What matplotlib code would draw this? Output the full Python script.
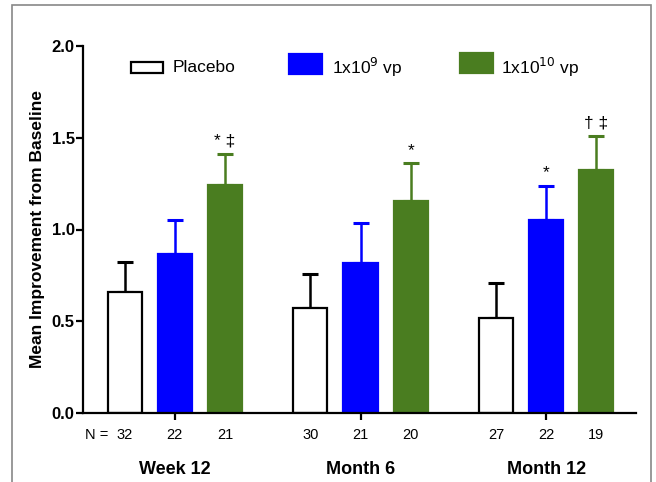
import matplotlib
matplotlib.use("Agg")
import matplotlib.pyplot as plt
from matplotlib.patches import Rectangle
import numpy as np

plt.rcParams['font.family'] = ['Liberation Sans', 'DejaVu Sans']

groups = ["Week 12", "Month 6", "Month 12"]
series = ["Placebo", "1x10$^{9}$ vp", "1x10$^{10}$ vp"]
means = {
    "Placebo": [0.66, 0.57, 0.52],
    "1e9": [0.865, 0.815, 1.05],
    "1e10": [1.245, 1.155, 1.325],
}
err_top = {
    "Placebo": [0.825, 0.755, 0.708],
    "1e9": [1.05, 1.035, 1.238],
    "1e10": [1.41, 1.36, 1.51],
}
n_labels = [["32", "22", "21"], ["30", "21", "20"], ["27", "22", "19"]]
annotations = {("1e10", 0): "* \u2021", ("1e10", 1): "*", ("1e9", 2): "*", ("1e10", 2): "\u2020 \u2021"}
yticks = [0.0, 0.5, 1.0, 1.5, 2.0]

keys = ["Placebo", "1e9", "1e10"]
faces = ["white", "#0000ff", "#4a7d20"]
edges = ["black", "#0000ff", "#4a7d20"]

W, H = 656, 482
fig = plt.figure(figsize=(W/100, H/100), dpi=100)
ax = fig.add_axes([83/W, 1-413/H, (636-83)/W, (413-46)/H])

gap = 3.7
width = 0.68
for si, k in enumerate(keys):
    xs = np.array([gi*gap + si for gi in range(3)])
    m = np.array(means[k])
    e = np.array(err_top[k]) - m
    ax.bar(xs, m, width=width, color=faces[si], edgecolor=edges[si], linewidth=1.6, zorder=2)
    ax.errorbar(xs, m, yerr=[np.zeros_like(e), e], fmt='none', ecolor=edges[si],
                elinewidth=1.8, capsize=6, capthick=2.2, zorder=1)
    for gi in range(3):
        lab = annotations.get((k, gi))
        if lab:
            ax.text(xs[gi], err_top[k][gi] + 0.03, lab, ha='center', va='bottom', fontsize=12.5)
        ax.text(xs[gi], -0.12, n_labels[gi][si], ha='center', va='center', fontsize=10.5)

ax.text(-0.8, -0.12, "N =", ha='left', va='center', fontsize=10.5)
for gi, g in enumerate(groups):
    ax.text(gi*gap + 1, -0.31, g, ha='center', va='center', fontsize=13, fontweight='bold')

ax.set_xlim(-0.83, 2*gap + 2 + 0.79)
ax.set_ylim(0, 2.0)
ax.set_yticks(yticks)
ax.set_yticklabels([f"{v:.1f}" for v in yticks], fontsize=12, fontweight='bold')
ax.set_xticks([gi*gap + 1 for gi in range(3)])
ax.set_xticklabels([])
ax.tick_params(axis='both', length=5, width=1.6, direction='out', pad=1)
for s in ['top', 'right']:
    ax.spines[s].set_visible(False)
for s in ['left', 'bottom']:
    ax.spines[s].set_linewidth(1.6)
ax.set_ylabel("Mean Improvement from Baseline", fontsize=12.5, fontweight='bold', labelpad=5)

# legend drawn manually in figure pixel coordinates
def fx(px):
    return px / W
def fy(py):
    return 1 - py / H
leg = [(131, 62, 32, 11, "white", "black", 173, "Placebo"),
       (289, 54, 33, 20, "#0000ff", "#0000ff", 332, "1x10$^{9}$ vp"),
       (460, 53, 33, 20, "#4a7d20", "#4a7d20", 501, "1x10$^{10}$ vp")]
for x0, y0, w, h, fc, ec, tx, lab in leg:
    fig.patches.append(Rectangle((fx(x0), fy(y0+h)), w/W, h/H, transform=fig.transFigure,
                                 facecolor=fc, edgecolor=ec, linewidth=1.6))
    fig.text(fx(tx), fy(67), lab, ha='left', va='center', fontsize=12.5)

# outer frame
fig.patches.append(Rectangle((fx(12), fy(H+5)), (651-12)/W, (H)/H, transform=fig.transFigure,
                             facecolor='none', edgecolor='#888888', linewidth=1.2))

fig.savefig("out.png", dpi=100)
